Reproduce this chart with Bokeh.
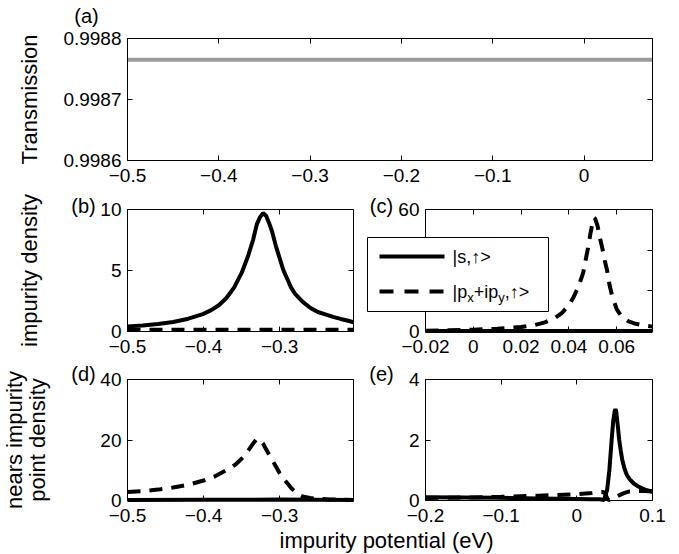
from bokeh.plotting import figure
from bokeh.models import (Range1d, FixedTicker, CustomJSTickFormatter, LinearAxis,
                          BoxAnnotation, Label)
from bokeh.layouts import column, row
from bokeh.embed import file_html
from bokeh.resources import INLINE

FONT = "Liberation Sans"
TICK_FS = "19px"
LABEL_FS = "22px"
PANEL_FS = "20px"

# ---------------- data ----------------
# (a) transmission
A_X = [-0.5, 0.075]
A_T = [0.998765, 0.998765]
A_XTICKS = [-0.5, -0.4, -0.3, -0.2, -0.1, 0.0]
A_XLABELS = ["−0.5", "−0.4", "−0.3", "−0.2", "−0.1", "0"]
A_YTICKS = [0.9986, 0.9987, 0.9988]
A_YLABELS = ["0.9986", "0.9987", "0.9988"]

# (b) impurity density, wide window
B_X = [-0.500, -0.480, -0.460, -0.440, -0.420, -0.400, -0.390, -0.380, -0.370, -0.360,
       -0.350, -0.342, -0.335, -0.330, -0.326, -0.322, -0.318, -0.314, -0.310, -0.305,
       -0.300, -0.295, -0.290, -0.285, -0.280, -0.270, -0.260, -0.250, -0.240, -0.230,
       -0.220, -0.210, -0.203]
B_S = [0.42, 0.50, 0.62, 0.78, 1.05, 1.45, 1.75, 2.15, 2.75, 3.60,
       4.80, 6.10, 7.50, 8.80, 9.35, 9.70, 9.50, 8.90, 8.20, 7.00,
       6.00, 5.00, 4.30, 3.60, 3.10, 2.45, 1.95, 1.60, 1.40, 1.20,
       1.03, 0.88, 0.76]
B_PX = [-0.5, -0.4, -0.3, -0.203]
B_P = [0.15, 0.15, 0.15, 0.15]
B_XTICKS = [-0.5, -0.4, -0.3]
B_XLABELS = ["−0.5", "−0.4", "−0.3"]
B_YTICKS = [0, 5, 10]
B_YLABELS = ["0", "5", "10"]

# (c) impurity density, narrow window
C_SX = [-0.02, 0.075]
C_S = [0.3, 0.3]
C_PX = [-0.020, -0.010, 0.000, 0.010, 0.020, 0.025, 0.030, 0.034, 0.037, 0.040,
        0.042, 0.044, 0.046, 0.048, 0.049, 0.050, 0.0505, 0.051, 0.052, 0.053,
        0.054, 0.055, 0.056, 0.057, 0.058, 0.060, 0.062, 0.065, 0.068, 0.071, 0.075]
C_P = [0.4, 0.6, 0.9, 1.3, 2.2, 3.0, 4.5, 6.5, 9.0, 13.0,
       17.0, 22.0, 29.0, 41.0, 48.0, 54.0, 56.0, 55.5, 52.0, 46.0,
       41.0, 35.0, 30.0, 23.0, 18.0, 11.0, 7.5, 5.0, 3.8, 3.0, 2.4]
C_XTICKS = [-0.02, 0.0, 0.02, 0.04, 0.06]
C_XLABELS = ["−0.02", "0", "0.02", "0.04", "0.06"]
C_YTICKS = [0, 20, 40, 60]
C_YLABELS = ["0", "20", "40", "60"]

# (d) near-impurity point density, wide window
D_SX = [-0.5, -0.4, -0.3, -0.203]
D_S = [0.2, 0.25, 0.3, 0.2]
D_PX = [-0.500, -0.480, -0.460, -0.440, -0.420, -0.400, -0.385, -0.370, -0.358, -0.348,
        -0.340, -0.335, -0.330, -0.326, -0.322, -0.318, -0.313, -0.308, -0.304, -0.300,
        -0.295, -0.290, -0.285, -0.280, -0.275, -0.270, -0.260, -0.250, -0.235, -0.220, -0.203]
D_P = [2.8, 3.1, 3.6, 4.3, 5.2, 6.6, 8.0, 10.0, 11.9, 14.3,
       17.0, 18.8, 20.4, 20.0, 18.9, 17.0, 14.8, 12.6, 10.8, 9.0,
       7.2, 5.7, 4.2, 2.9, 1.9, 1.3, 0.8, 0.55, 0.35, 0.25, 0.2]
D_XTICKS = [-0.5, -0.4, -0.3]
D_XLABELS = ["−0.5", "−0.4", "−0.3"]
D_YTICKS = [0, 20, 40]
D_YLABELS = ["0", "20", "40"]

# (e) near-impurity point density, narrow window
E_SX = [-0.200, -0.150, -0.100, -0.050, 0.000, 0.020, 0.030, 0.036, 0.040, 0.043,
        0.046, 0.048, 0.050, 0.051, 0.052, 0.054, 0.056, 0.058, 0.060, 0.063,
        0.066, 0.070, 0.075, 0.080, 0.090, 0.100]
E_S = [0.11, 0.10, 0.09, 0.07, 0.05, 0.04, 0.04, 0.02, 0.35, 1.00,
       2.00, 2.60, 2.95, 3.02, 2.95, 2.50, 2.00, 1.65, 1.35, 1.05,
       0.85, 0.70, 0.57, 0.48, 0.36, 0.29]
E_PX = [-0.200, -0.150, -0.100, -0.050, 0.000, 0.020, 0.030, 0.035, 0.038, 0.040,
        0.042, 0.045, 0.050, 0.055, 0.060, 0.065, 0.070, 0.080, 0.090, 0.100]
E_P = [0.08, 0.10, 0.12, 0.16, 0.21, 0.25, 0.28, 0.28, 0.20, 0.08,
       0.01, 0.04, 0.10, 0.16, 0.22, 0.27, 0.30, 0.31, 0.31, 0.30]
E_XTICKS = [-0.2, -0.1, 0.0, 0.1]
E_XLABELS = ["−0.2", "−0.1", "0", "0.1"]
E_YTICKS = [0, 2, 4]
E_YLABELS = ["0", "2", "4"]

LEGEND_S = "|s,↑>"
# |p_x+ip_y,↑>  as (text, is_subscript) pieces
LEGEND_P = [("|p", False), ("x", True), ("+ip", False), ("y", True), (",↑>", False)]
X_LABEL = "impurity potential (eV)"

# ---------------- helpers ----------------
FMT_CODE = """
for (let i = 0; i < tv.length; i++) {
  if (Math.abs(tv[i] - tick) < 1e-9) return tl[i];
}
return "";
"""


def style_axis(ax, show, standoff):
    ax.major_tick_in = 5
    ax.major_tick_out = 0
    ax.minor_tick_in = 0
    ax.minor_tick_out = 0
    ax.axis_line_color = "black"
    ax.axis_line_width = 1
    ax.major_tick_line_color = "black"
    ax.major_label_text_font = FONT
    ax.major_label_text_font_size = TICK_FS
    ax.major_label_text_color = "black"
    ax.axis_label_text_font = FONT
    ax.axis_label_text_font_size = LABEL_FS
    ax.axis_label_text_font_style = "normal"
    ax.axis_label_text_color = "black"
    ax.major_label_standoff = standoff if show else 0


def make_fig(canvas, box, xr, yr, xt, xl, yt, yl, ylabel=None, ystandoff=10, ylh=1.2):
    """Frame fills the whole canvas; the data box is drawn with axes at fixed locations."""
    ox, oy, W, H = canvas
    l, t, r, b = box
    sx = (xr[1] - xr[0]) / (r - l)
    sy = (yr[1] - yr[0]) / (b - t)
    X0 = xr[0] - (l - ox) * sx
    X1 = xr[1] + (ox + W - r) * sx
    Y0 = yr[0] - (oy + H - b) * sy
    Y1 = yr[1] + (t - oy) * sy
    p = figure(width=W, height=H, x_range=Range1d(X0, X1), y_range=Range1d(Y0, Y1),
               output_backend="svg", toolbar_location=None,
               x_axis_location=None, y_axis_location=None,
               min_border=0, min_border_left=0, min_border_right=0,
               min_border_top=0, min_border_bottom=0)
    p.grid.visible = False
    p.outline_line_color = None
    p.background_fill_color = "white"
    p.border_fill_color = "white"
    specs = [("below", xt, xl, True, yr[0], xr, 8),
             ("left", yt, yl, True, xr[0], yr, 6),
             ("above", xt, None, False, yr[1], xr, 0),
             ("right", yt, None, False, xr[1], yr, 0)]
    for side, ticks, labels, show, loc, bnds, so in specs:
        labs = labels if labels is not None else [""] * len(ticks)
        ax = LinearAxis(ticker=FixedTicker(ticks=ticks, minor_ticks=[]),
                        formatter=CustomJSTickFormatter(args=dict(tv=ticks, tl=labs), code=FMT_CODE),
                        fixed_location=loc, bounds=tuple(bnds))
        style_axis(ax, show, so)
        if side == "left" and ylabel is not None:
            ax.axis_label = ylabel
            ax.axis_label_standoff = ystandoff
            ax.axis_label_text_line_height = ylh
        p.add_layout(ax, side)
    return p


def to_data(px, py, box, xr, yr):
    l, t, r, b = box
    x = xr[0] + (px - l) / (r - l) * (xr[1] - xr[0])
    y = yr[0] + (b - py) / (b - t) * (yr[1] - yr[0])
    return x, y


def add_text(p, px, py, text, box, xr, yr, size=PANEL_FS, align="center", baseline="middle"):
    x, y = to_data(px, py, box, xr, yr)
    p.add_layout(Label(x=x, y=y, text=text, text_font=FONT, text_font_size=size,
                       text_color="black", text_align=align, text_baseline=baseline,
                       level="overlay"))


SOLID = dict(line_color="black", line_width=4)
DASH = dict(line_color="black", line_width=4, line_dash="13 9")

# ---------------- panel (a) ----------------
A_XR, A_YR = (-0.5, 0.075), (0.9986, 0.9988)
A_BOX = (127, 38, 652, 160)
pa = make_fig((0, 0, 679, 188), A_BOX, A_XR, A_YR, A_XTICKS, A_XLABELS, A_YTICKS, A_YLABELS,
              ylabel="Transmission", ystandoff=18)
pa.line(A_X, A_T, line_color="#9a9a9a", line_width=4)
add_text(pa, 86, 15, "(a)", A_BOX, A_XR, A_YR)

# ---------------- panel (b) ----------------
B_XR, B_YR = (-0.5, -0.203), (0, 10)
B_BOX = (127, 209, 353, 331)
pb = make_fig((0, 188, 360, 171), B_BOX, B_XR, B_YR, B_XTICKS, B_XLABELS, B_YTICKS, B_YLABELS,
              ylabel="impurity density", ystandoff=55)
pb.line(B_PX, B_P, **DASH)
pb.line(B_X, B_S, **SOLID)
add_text(pb, 83, 205, "(b)", B_BOX, B_XR, B_YR)

# ---------------- panel (c) ----------------
C_XR, C_YR = (-0.02, 0.075), (0, 60)
C_BOX = (425, 209, 652, 331)
pc = make_fig((360, 188, 319, 171), C_BOX, C_XR, C_YR, C_XTICKS, C_XLABELS, C_YTICKS, C_YLABELS)
pc.line(C_SX, C_S, **SOLID)
pc.line(C_PX, C_P, **DASH)
add_text(pc, 381, 205, "(c)", C_BOX, C_XR, C_YR)

# legend drawn on top of panel (c): white box, line samples, texts
lx0, ly0 = to_data(367, 311, C_BOX, C_XR, C_YR)
lx1, ly1 = to_data(548, 237, C_BOX, C_XR, C_YR)
pc.add_layout(BoxAnnotation(left=lx0, right=lx1, bottom=ly0, top=ly1,
                            fill_color="white", fill_alpha=1.0,
                            line_color="black", line_width=1, line_alpha=1.0))
sx0, sy_s = to_data(379, 256, C_BOX, C_XR, C_YR)
sx1, sy_p = to_data(444, 291, C_BOX, C_XR, C_YR)
pc.line([sx0, sx1], [sy_s, sy_s], level="overlay", **SOLID)
pc.line([sx0, sx1], [sy_p, sy_p], level="overlay", line_color="black", line_width=4,
        line_dash="14 11")
add_text(pc, 452, 256, LEGEND_S, C_BOX, C_XR, C_YR, size="18px", align="left")
_px = 452.0
for txt, sub in LEGEND_P:
    add_text(pc, _px, 297 if sub else 291, txt, C_BOX, C_XR, C_YR,
             size="13px" if sub else "18px", align="left")
    # advance: Liberation Sans widths (em) for the glyphs used
    widths = {"|": 0.26, "p": 0.556, "x": 0.5, "+": 0.584, "i": 0.222, "y": 0.5,
              ",": 0.278, "↑": 0.5, ">": 0.584}
    _px += sum(widths[ch] for ch in txt) * (13 if sub else 18)

# ---------------- panel (d) ----------------
D_XR, D_YR = (-0.5, -0.203), (0, 40)
D_BOX = (127, 379, 353, 500)
pd_ = make_fig((0, 359, 360, 166), D_BOX, D_XR, D_YR, D_XTICKS, D_XLABELS, D_YTICKS, D_YLABELS,
               ylabel="nears impurity\npoint density", ystandoff=47, ylh=0.92)
pd_.line(D_SX, D_S, **SOLID)
pd_.line(D_PX, D_P, **DASH)
add_text(pd_, 83, 373, "(d)", D_BOX, D_XR, D_YR)

# ---------------- panel (e) ----------------
E_XR, E_YR = (-0.2, 0.1), (0, 4)
E_BOX = (425, 379, 652, 500)
pe = make_fig((360, 359, 319, 166), E_BOX, E_XR, E_YR, E_XTICKS, E_XLABELS, E_YTICKS, E_YLABELS)
pe.line(E_PX, E_P, **DASH)
pe.line(E_SX, E_S, **SOLID)
add_text(pe, 381, 373, "(e)", E_BOX, E_XR, E_YR)

# ---------------- shared x label ----------------
px_ = figure(width=679, height=29, x_range=Range1d(0, 679), y_range=Range1d(0, 29),
             output_backend="svg", toolbar_location=None,
             x_axis_location=None, y_axis_location=None,
             min_border=0, min_border_left=0, min_border_right=0,
             min_border_top=0, min_border_bottom=0)
px_.grid.visible = False
px_.outline_line_color = None
px_.add_layout(Label(x=386, y=14, text=X_LABEL, text_font=FONT, text_font_size=LABEL_FS,
                     text_color="black", text_align="center", text_baseline="middle",
                     level="overlay"))

layout = column(pa, row(pb, pc), row(pd_, pe), px_)

with open("out.html", "w") as f:
    f.write(file_html(layout, INLINE))
